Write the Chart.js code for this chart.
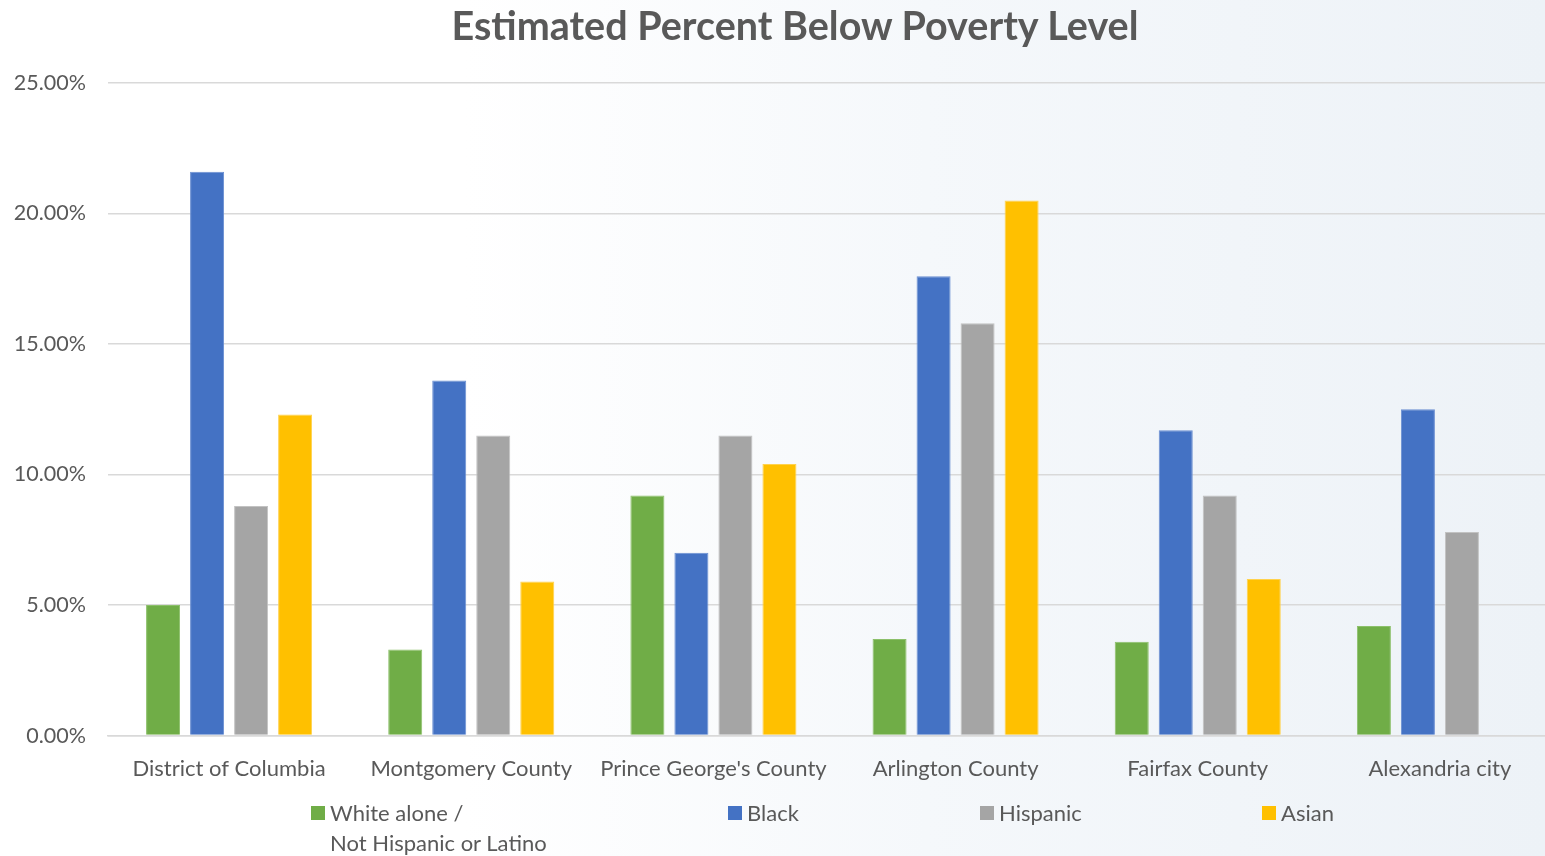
<!DOCTYPE html>
<html>
<head>
<meta charset="utf-8">
<script src="https://cdn.jsdelivr.net/npm/chart.js@4/dist/chart.umd.min.js"></script>
<style>
  html, body { margin: 0; padding: 0; }
  body {
    width: 1545px; height: 856px; overflow: hidden; position: relative;
    background: linear-gradient(to right, #ffffff 0%, #ffffff 30%, #f5f8fb 60%, #edf2f7 100%);
    font-family: Lato, "Open Sans", sans-serif;
  }
  /* the plot area runs slightly past the right edge of the visible frame */
  #wrap { position: absolute; left: 0; top: 0; width: 1545px; height: 856px; overflow: hidden; }
  #title {
    position: absolute; top: 1px; left: 0; width: 1590px; text-align: center;
    font-weight: bold; font-size: 39.5px; color: #595959; line-height: 48px;
  }
  .leg { position: absolute; top: 798px; font-size: 22px; color: #595959; line-height: 30px; }
  .leg .box { position: absolute; left: 0; top: 8px; width: 14px; height: 14px; }
  .leg .txt { margin-left: 19px; white-space: pre; }
</style>
</head>
<body>
<div id="wrap"><canvas id="c" width="1561" height="856"></canvas></div>
<div id="title">Estimated Percent Below Poverty Level</div>
<div id="legend"></div>
<script>
// Counties / cities on the x axis
const categories = [
  "District of Columbia",
  "Montgomery County",
  "Prince George's County",
  "Arlington County",
  "Fairfax County",
  "Alexandria city"
];

// Percent of each group below the poverty level
const whiteNotHispanic = [5.0, 3.3, 9.2, 3.7, 3.6, 4.2];
const black            = [21.6, 13.6, 7.0, 17.6, 11.7, 12.5];
const hispanic         = [8.8, 11.5, 11.5, 15.8, 9.2, 7.8];
const asian            = [12.3, 5.9, 10.4, 20.5, 6.0, null];

const seriesNames  = ["White alone /\nNot Hispanic or Latino", "Black", "Hispanic", "Asian"];
const seriesColors = ["#70AD47", "#4472C4", "#A5A5A5", "#FFC000"];
const seriesBorders = ["#8cc06a", "#6a8fd2", "#c2c2c2", "#ffd24d"];
const legendLeft   = [311, 728, 980, 1262];

const yTicks = [0, 5, 10, 15, 20, 25];

const allSeries = [whiteNotHispanic, black, hispanic, asian];

const datasets = allSeries.map((vals, i) => ({
  label: seriesNames[i],
  data: vals,
  backgroundColor: seriesColors[i],
  borderColor: seriesBorders[i],
  borderWidth: 1,
  categoryPercentage: 0.727,
  barPercentage: 0.773
}));

const textColor = "#595959";
const fontFamily = "Lato, 'Open Sans', sans-serif";

new Chart(document.getElementById("c"), {
  type: "bar",
  data: { labels: categories, datasets },
  options: {
    responsive: false,
    animation: false,
    layout: { padding: { top: 83, left: 0, right: 0, bottom: 54 } },
    plugins: {
      legend: { display: false },
      title: { display: false },
      tooltip: { enabled: false }
    },
    scales: {
      x: {
        grid: { display: false, drawTicks: false },
        border: { display: true, color: "#d9d9d9", width: 1.5 },
        ticks: {
          color: textColor,
          font: { family: fontFamily, size: 22 },
          padding: 20,
          maxRotation: 0,
          autoSkip: false
        }
      },
      y: {
        min: 0,
        max: 25,
        afterBuildTicks: (scale) => { scale.ticks = yTicks.map(v => ({ value: v })); },
        afterFit: (scale) => { scale.width = 108; },
        grid: { color: "#d9d9d9", lineWidth: 1.5, drawTicks: false },
        border: { display: false },
        ticks: {
          color: textColor,
          font: { family: fontFamily, size: 21.5 },
          padding: 22,
          callback: (v) => Number(v).toFixed(2) + "%"
        }
      }
    }
  }
});

// Legend laid out in four columns below the axis
const legend = document.getElementById("legend");
seriesNames.forEach((name, i) => {
  const item = document.createElement("div");
  item.className = "leg";
  item.style.left = legendLeft[i] + "px";
  const box = document.createElement("div");
  box.className = "box";
  box.style.background = seriesColors[i];
  const txt = document.createElement("div");
  txt.className = "txt";
  txt.textContent = name;
  item.appendChild(box);
  item.appendChild(txt);
  legend.appendChild(item);
});
</script>
</body>
</html>
